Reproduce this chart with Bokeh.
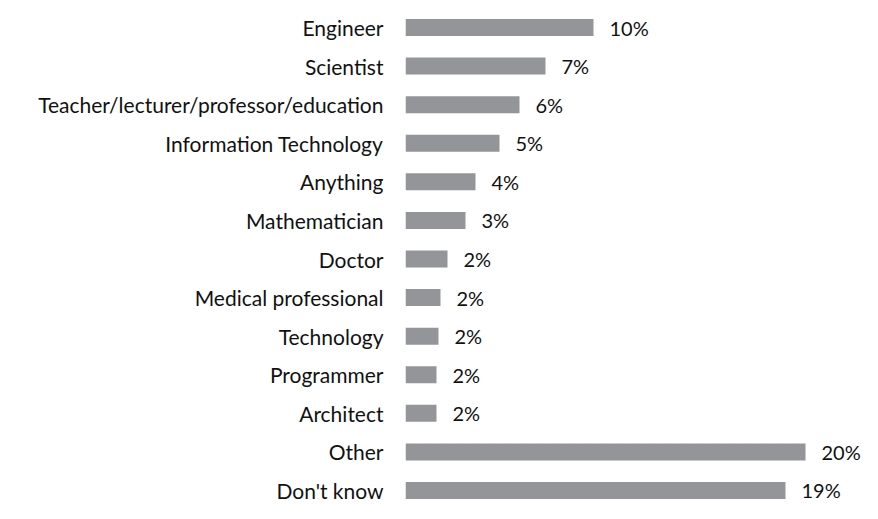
from bokeh.plotting import figure
from bokeh.models import Range1d, FixedTicker, ColumnDataSource
from bokeh.core.properties import value
from bokeh.embed import file_html
from bokeh.resources import INLINE

categories = ["Engineer", "Scientist", "Teacher/lecturer/professor/education",
              "Information Technology", "Anything", "Mathematician", "Doctor",
              "Medical professional", "Technology", "Programmer", "Architect",
              "Other", "Don't know"]
values = [9.4, 7.0, 5.7, 4.7, 3.5, 3.0, 2.1, 1.75, 1.65, 1.55, 1.55, 20.0, 19.0]
value_labels = ["10%", "7%", "6%", "5%", "4%", "3%", "2%", "2%", "2%", "2%", "2%", "20%", "19%"]

FONT = "Lato"
BAR_COLOR = "#939598"
TEXT_COLOR = "#111111"

idx = list(range(len(categories)))
src = ColumnDataSource(dict(y=idx, v=values, lab=value_labels))

p = figure(width=862, height=503, output_backend="svg", toolbar_location=None,
           x_range=Range1d(0, 22.85), y_range=Range1d(12.337, -0.700),
           min_border_left=405, min_border_right=0, min_border_top=0, min_border_bottom=0)

p.hbar(y="y", right="v", left=0, height=0.44, source=src,
       fill_color=BAR_COLOR, line_color=None)
p.text(x="v", y="y", text="lab", source=src, x_offset=16,
       text_align="left", text_baseline="middle",
       text_font=value(FONT), text_font_size="20px", text_color=TEXT_COLOR)

p.xaxis.visible = False
yax = p.yaxis[0]
yax.ticker = FixedTicker(ticks=idx)
yax.major_label_overrides = {i: c for i, c in zip(idx, categories)}
yax.major_label_text_font = FONT
yax.major_label_text_font_size = "21px"
yax.major_label_text_color = TEXT_COLOR
yax.major_label_standoff = 22
yax.major_tick_in = 0
yax.major_tick_out = 0
yax.minor_tick_line_color = None
yax.axis_line_color = None

p.grid.visible = False
p.outline_line_color = None
p.background_fill_color = "white"
p.border_fill_color = "white"

open("out.html", "w").write(file_html(p, INLINE))
